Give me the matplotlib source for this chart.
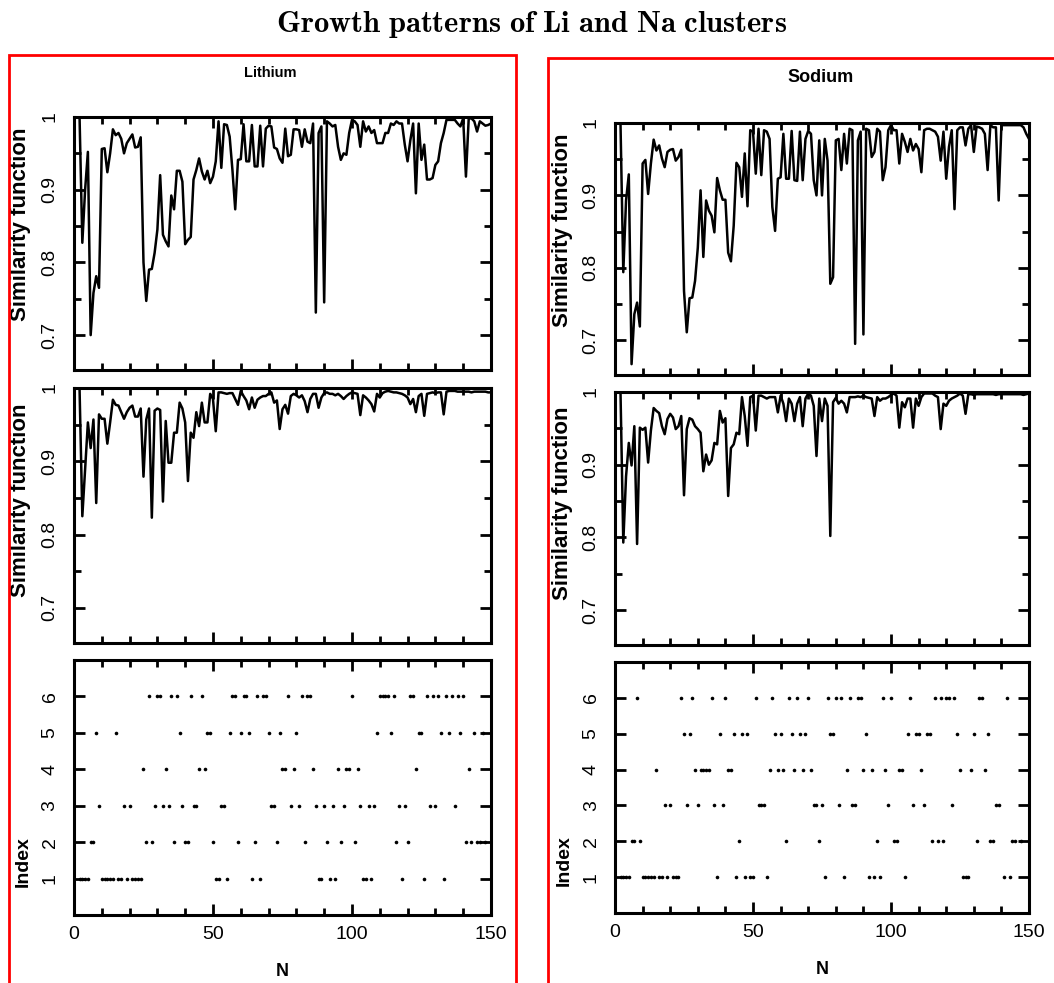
import numpy as np
import matplotlib
matplotlib.use('Agg')
import matplotlib.pyplot as plt
from matplotlib.patches import Rectangle

plt.rcParams['font.family'] = ['Liberation Sans', 'DejaVu Sans']
plt.rcParams['mathtext.fontset'] = 'cm'

# similarity function values, N = 2 ... 150
li_sim_a = [1.0, 0.827, 0.90, 0.952, 0.70, 0.758, 0.781, 0.765, 0.956, 0.957,
            0.924, 0.95, 0.983, 0.975, 0.978, 0.97, 0.95, 0.964, 0.97, 0.976,
            0.958, 0.959, 0.972, 0.80, 0.747, 0.79, 0.791, 0.813, 0.845, 0.92,
            0.838, 0.829, 0.822, 0.892, 0.873, 0.926, 0.926, 0.911, 0.825, 0.831,
            0.835, 0.914, 0.927, 0.943, 0.925, 0.914, 0.926, 0.909, 0.918, 0.939,
            0.994, 0.93, 0.99, 0.989, 0.973, 0.927, 0.873, 0.941, 0.942, 0.99,
            0.939, 0.939, 0.989, 0.932, 0.932, 0.988, 0.932, 0.984, 0.988, 0.987,
            0.958, 0.956, 0.943, 0.937, 0.984, 0.946, 0.948, 0.983, 0.983, 0.982,
            0.959, 0.983, 0.966, 0.964, 0.991, 0.731, 0.978, 0.987, 0.745, 0.994,
            0.991, 0.987, 0.989, 0.959, 0.941, 0.95, 0.948, 0.978, 0.996, 0.994,
            0.989, 0.959, 0.994, 0.98, 0.987, 0.978, 0.982, 0.964, 0.964, 0.964,
            0.978, 0.978, 0.991, 0.989, 0.994, 0.991, 0.991, 0.962, 0.939, 0.968,
            0.991, 0.895, 0.991, 0.941, 0.962, 0.914, 0.914, 0.916, 0.934, 0.939,
            0.964, 0.978, 0.996, 0.996, 0.996, 0.996, 0.991, 0.987, 0.998, 0.918,
            0.998, 0.998, 0.994, 0.98, 0.994, 0.991, 0.988, 0.989, 0.991]

li_sim_b = [0.999, 0.825, 0.89, 0.953, 0.918, 0.957, 0.843, 0.964, 0.958, 0.958,
            0.924, 0.953, 0.984, 0.977, 0.976, 0.967, 0.958, 0.967, 0.973, 0.976,
            0.961, 0.961, 0.972, 0.879, 0.957, 0.972, 0.823, 0.969, 0.972, 0.97,
            0.845, 0.955, 0.898, 0.898, 0.939, 0.939, 0.98, 0.972, 0.953, 0.873,
            0.939, 0.932, 0.967, 0.948, 0.98, 0.953, 0.953, 0.992, 0.985, 0.941,
            0.994, 0.994, 0.993, 0.992, 0.993, 0.993, 0.985, 0.977, 0.996, 0.989,
            0.983, 0.971, 0.987, 0.973, 0.984, 0.987, 0.989, 0.989, 0.992, 0.994,
            0.98, 0.983, 0.944, 0.971, 0.977, 0.965, 0.989, 0.992, 0.99, 0.987,
            0.99, 0.982, 0.967, 0.985, 0.992, 0.992, 0.973, 0.987, 0.993, 0.994,
            0.992, 0.992, 0.99, 0.992, 0.989, 0.985, 0.989, 0.992, 0.994, 0.993,
            0.992, 0.963, 0.99, 0.987, 0.983, 0.978, 0.968, 0.992, 0.987, 0.993,
            0.995, 0.996, 0.995, 0.994, 0.994, 0.993, 0.992, 0.99, 0.987, 0.978,
            0.985, 0.967, 0.989, 0.992, 0.962, 0.992, 0.993, 0.994, 0.993, 0.994,
            0.994, 0.964, 0.995, 0.996, 0.996, 0.996, 0.995, 0.995, 0.995, 0.995,
            0.995, 0.994, 0.995, 0.995, 0.995, 0.995, 0.995, 0.994, 0.994]

na_sim_a = [0.997, 0.794, 0.893, 0.929, 0.667, 0.736, 0.752, 0.719, 0.944, 0.949,
            0.902, 0.944, 0.977, 0.962, 0.969, 0.951, 0.939, 0.96, 0.963, 0.964,
            0.948, 0.953, 0.963, 0.768, 0.711, 0.758, 0.759, 0.782, 0.828, 0.907,
            0.815, 0.893, 0.879, 0.872, 0.849, 0.924, 0.907, 0.894, 0.894, 0.821,
            0.809, 0.858, 0.945, 0.939, 0.898, 0.958, 0.885, 0.99, 0.988, 0.93,
            0.992, 0.928, 0.99, 0.988, 0.978, 0.884, 0.851, 0.923, 0.925, 0.985,
            0.923, 0.923, 0.989, 0.921, 0.92, 0.988, 0.921, 0.978, 0.989, 0.985,
            0.921, 0.9, 0.976, 0.9, 0.978, 0.948, 0.778, 0.787, 0.976, 0.978,
            0.935, 0.985, 0.944, 0.992, 0.99, 0.695, 0.976, 0.988, 0.708, 0.992,
            0.99, 0.953, 0.96, 0.992, 0.988, 0.921, 0.939, 0.99, 0.997, 0.99,
            0.99, 0.944, 0.985, 0.974, 0.96, 0.978, 0.962, 0.971, 0.964, 0.932,
            0.99, 0.992, 0.992, 0.99, 0.988, 0.981, 0.948, 0.988, 0.923, 0.967,
            0.99, 0.881, 0.99, 0.994, 0.994, 0.969, 0.992, 0.997, 0.96, 0.995,
            0.994, 0.992, 0.985, 0.935, 0.997, 0.994, 0.994, 0.893, 0.997, 0.997,
            0.997, 0.997, 0.997, 0.997, 0.997, 0.997, 0.994, 0.985, 0.978]

na_sim_b = [0.998, 0.793, 0.884, 0.93, 0.899, 0.953, 0.791, 0.951, 0.948, 0.951,
            0.903, 0.947, 0.978, 0.974, 0.971, 0.953, 0.942, 0.963, 0.97, 0.965,
            0.949, 0.953, 0.967, 0.858, 0.949, 0.964, 0.962, 0.953, 0.949, 0.944,
            0.891, 0.914, 0.9, 0.906, 0.93, 0.928, 0.974, 0.958, 0.964, 0.857,
            0.923, 0.928, 0.944, 0.942, 0.993, 0.967, 0.926, 0.993, 0.995, 0.947,
            0.995, 0.995, 0.993, 0.991, 0.993, 0.993, 0.993, 0.972, 0.995, 0.984,
            0.96, 0.991, 0.984, 0.96, 0.984, 0.993, 0.953, 0.991, 0.998, 0.995,
            0.981, 0.912, 0.991, 0.96, 0.991, 0.981, 0.802, 0.986, 0.992, 0.984,
            0.988, 0.984, 0.972, 0.993, 0.993, 0.993, 0.994, 0.993, 0.995, 0.993,
            0.992, 0.991, 0.967, 0.993, 0.988, 0.991, 0.991, 0.993, 0.996, 0.998,
            0.995, 0.951, 0.986, 0.979, 0.991, 0.991, 0.951, 0.991, 0.981, 0.993,
            0.998, 0.998, 0.998, 0.998, 0.995, 0.993, 0.949, 0.984, 0.981, 0.988,
            0.991, 0.993, 0.995, 0.998, 0.995, 0.97, 0.997, 0.997, 0.996, 0.997,
            0.997, 0.997, 0.997, 0.997, 0.997, 0.997, 0.996, 0.997, 0.997, 0.997,
            0.997, 0.997, 0.997, 0.997, 0.997, 0.997, 0.996, 0.997, 0.998]

# cluster sizes N for each index value
li_index = {
    1: [2, 3, 4, 5, 10, 11, 12, 13, 14, 16, 17, 19, 21, 22, 23, 24, 51, 52, 55, 64, 67,
        88, 89, 92, 94, 104, 105, 107, 118, 126, 133],
    2: [6, 7, 26, 28, 36, 40, 41, 50, 59, 65, 73, 83, 91, 96, 101, 116, 120, 141, 143,
        145, 146, 148],
    3: [9, 18, 20, 29, 32, 34, 39, 43, 44, 53, 54, 71, 72, 78, 81, 87, 90, 93, 97, 103,
        106, 108, 117, 119, 128, 130, 137],
    4: [25, 33, 45, 47, 75, 76, 79, 86, 95, 98, 99, 102, 123, 142],
    5: [8, 15, 38, 48, 49, 56, 60, 63, 70, 74, 80, 109, 114, 124, 125, 132, 135, 139,
        144, 147],
    6: [27, 30, 31, 35, 37, 42, 46, 57, 58, 61, 62, 66, 68, 69, 77, 82, 84, 85, 100, 110,
        111, 112, 113, 115, 121, 122, 127, 129, 131, 134, 136, 138, 140],
}
na_index = {
    1: [2, 3, 4, 5, 10, 11, 12, 13, 14, 16, 17, 19, 21, 22, 23, 37, 44, 47, 49, 50, 55,
        76, 83, 92, 94, 96, 105, 126, 127, 128, 141, 143],
    2: [6, 7, 9, 45, 62, 74, 95, 101, 102, 115, 117, 119, 131, 136, 137, 144, 145, 147],
    3: [18, 20, 26, 30, 36, 39, 52, 53, 54, 72, 73, 75, 81, 86, 87, 99, 108, 112, 122,
        138, 139],
    4: [15, 29, 31, 32, 33, 34, 41, 42, 56, 59, 61, 65, 68, 71, 84, 90, 93, 98, 103, 104,
        111, 125, 129, 134],
    5: [25, 27, 38, 43, 46, 48, 58, 60, 64, 67, 69, 78, 79, 91, 106, 109, 110, 113, 114,
        124, 130, 135],
    6: [8, 24, 28, 35, 40, 51, 57, 63, 66, 70, 77, 80, 82, 85, 88, 89, 97, 100, 107, 116,
        118, 120, 121, 123, 132, 133, 142],
}

x_ticks = [0, 50, 100, 150]
sim_ticks = [0.7, 0.8, 0.9, 1.0]
sim_labels = ['0.7', '0.8', '0.9', '1']
index_ticks = [1, 2, 3, 4, 5, 6]


def style_axes(ax, bottom=False):
    ax.set_xlim(0, 150)
    ax.set_xticks(x_ticks)
    ax.set_xticks(np.arange(0, 151, 10), minor=True)
    for s in ax.spines.values():
        s.set_linewidth(2.2)
    ax.tick_params(which='both', direction='in', top=True, right=True, width=2.0)
    ax.tick_params(which='major', length=8)
    ax.tick_params(which='minor', length=5)
    ax.tick_params(axis='y', labelrotation=90, labelsize=14, pad=11)
    ax.tick_params(axis='x', labelsize=14, pad=8)
    if not bottom:
        ax.set_xticklabels([])
    else:
        ax.set_xlabel('N', fontsize=13, fontweight='bold', labelpad=14)


def sim_panel(ax, vals, label_y):
    n = np.arange(2, 2 + len(vals))
    ax.plot(n, vals, color='black', lw=1.8)
    ax.set_ylim(0.652, 1.0)
    ax.set_yticks(sim_ticks)
    ax.set_yticklabels(sim_labels, va='center')
    ax.set_yticks([0.75, 0.85, 0.95], minor=True)
    ax.set_ylabel('Similarity function', fontsize=16, fontweight='bold')
    ax.yaxis.set_label_coords(-0.102, label_y)
    style_axes(ax)


def index_panel(ax, index):
    for k, ns in index.items():
        ax.plot(ns, [k] * len(ns), 'o', color='black', ms=2.6, mew=0)
    ax.set_ylim(0, 7)
    ax.set_yticks(index_ticks)
    ax.set_yticklabels([str(i) for i in index_ticks], va='center')
    ax.set_ylabel('Index', fontsize=14, fontweight='bold')
    ax.yaxis.set_label_coords(-0.102, 0.21)
    style_axes(ax, bottom=True)


fig = plt.figure(figsize=(10.54, 9.83), dpi=100)

# left column: lithium
ax1 = fig.add_axes([0.0702, 0.6236, 0.3956, 0.2574])
ax2 = fig.add_axes([0.0702, 0.3459, 0.3956, 0.2594])
ax3 = fig.add_axes([0.0702, 0.0692, 0.3956, 0.2594])
# right column: sodium
ax4 = fig.add_axes([0.5835, 0.6185, 0.3928, 0.2564])
ax5 = fig.add_axes([0.5835, 0.3438, 0.3928, 0.2574])
ax6 = fig.add_axes([0.5835, 0.0712, 0.3928, 0.2553])

sim_panel(ax1, li_sim_a, 0.575)
sim_panel(ax2, li_sim_b, 0.56)
index_panel(ax3, li_index)
sim_panel(ax4, na_sim_a, 0.575)
sim_panel(ax5, na_sim_b, 0.56)
index_panel(ax6, na_index)

# red frames round each column
fig.patches.append(Rectangle((9 / 1054, -0.1), 507 / 1054, 1.1 - 55 / 983,
                             transform=fig.transFigure, fill=False,
                             edgecolor='red', lw=2.0))
fig.patches.append(Rectangle((548 / 1054, -0.1), 0.6, 1.1 - 58 / 983,
                             transform=fig.transFigure, fill=False,
                             edgecolor='red', lw=2.0))

fig.text(270 / 1054, 1 - 73 / 983, 'Lithium', ha='center', va='center',
         fontsize=10.5, fontweight='bold')
fig.text(821 / 1054, 1 - 78 / 983, 'Sodium', ha='center', va='center',
         fontsize=13, fontweight='bold')
fig.text(532 / 1054, 1 - 25 / 983,
         r'$\mathbf{Growth\ patterns\ of\ Li\ and\ Na\ clusters}$',
         ha='center', va='center', fontsize=22)

fig.savefig('out.png', dpi=100)
